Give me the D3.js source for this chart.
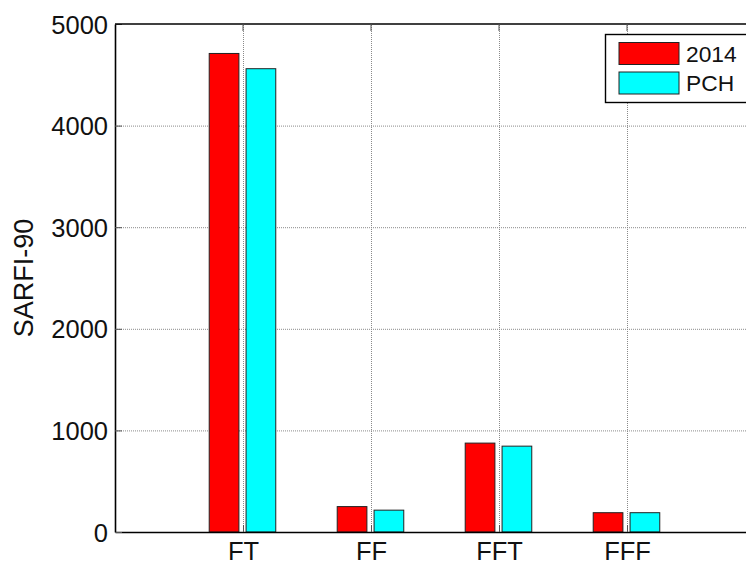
<!DOCTYPE html>
<html>
<head>
<meta charset="utf-8">
<script src="https://cdn.jsdelivr.net/npm/d3@7"></script>
<style>
    body { margin: 0; background: #fff; }
    svg { display: block; font-family: "Liberation Sans", Arial, sans-serif; }
</style>
</head>
<body>
<div id="svganchor"></div>
<script>
// Chart data
let categories = ["FT", "FF", "FFT", "FFF"];
let seriesNames = ["2014", "PCH"];
let values2014 = [4710, 250, 875, 190];
let valuesPCH = [4560, 215, 845, 190];
let yTicks = [0, 1000, 2000, 3000, 4000, 5000];

let width = 746;
let height = 563;
let margin = ({top: 24, right: -9, bottom: 31, left: 115});

let colors = d3.scaleOrdinal()
    .domain(seriesNames)
    .range(["#ff0000", "#00ffff"]);

let svg = d3.select("#svganchor")
    .append("svg")
    .attr("width", width)
    .attr("height", height);

// MATLAB style axes: categories sit on 1..n, limits 0..n+1
let xScale = d3.scaleLinear()
    .domain([0, categories.length + 1])
    .range([margin.left, width - margin.right]);

let yScale = d3.scaleLinear()
    .domain([0, 5000])
    .range([height - margin.bottom, margin.top]);

// offsets of each series inside a group, in x units
let offsets = [-0.148, 0.14];
let barWidth = 0.232;

let x0 = xScale.range()[0], x1 = xScale.range()[1];
let y0 = yScale.range()[0], y1 = yScale.range()[1];

// Dotted grid
let grid = svg.append("g")
    .attr("stroke", "#8a8a8a")
    .attr("stroke-width", 1)
    .attr("stroke-dasharray", "1,1");

grid.selectAll(".hgrid")
    .data(yTicks.slice(1, -1))
    .enter().append("line")
    .attr("x1", x0).attr("x2", x1)
    .attr("y1", d => yScale(d) + 0.5).attr("y2", d => yScale(d) + 0.5);

grid.selectAll(".vgrid")
    .data(categories)
    .enter().append("line")
    .attr("x1", (d, i) => xScale(i + 1) + 0.5).attr("x2", (d, i) => xScale(i + 1) + 0.5)
    .attr("y1", y0).attr("y2", y1);

// Bars
let series = [values2014, valuesPCH];

series.forEach(function(vals, s) {
    svg.append("g")
        .selectAll("rect")
        .data(vals)
        .enter().append("rect")
        .attr("x", (d, i) => xScale(i + 1 + offsets[s] - barWidth / 2))
        .attr("y", d => yScale(d))
        .attr("width", xScale(barWidth) - xScale(0))
        .attr("height", d => yScale(0) - yScale(d))
        .attr("fill", colors(seriesNames[s]))
        .attr("stroke", "#222")
        .attr("stroke-width", 1);
});

// Axes
let xAxis = d3.axisBottom(xScale)
    .tickValues(d3.range(1, categories.length + 1))
    .tickFormat(d => categories[d - 1])
    .tickSizeInner(-7)
    .tickSizeOuter(0)
    .tickPadding(10);

let yAxis = d3.axisLeft(yScale)
    .tickValues(yTicks)
    .tickFormat(d3.format("d"))
    .tickSizeInner(-7)
    .tickSizeOuter(0)
    .tickPadding(7);

let gx = svg.append("g")
    .attr("transform", "translate(0," + y0 + ")")
    .call(xAxis);

let gy = svg.append("g")
    .attr("transform", "translate(" + x0 + ",0)")
    .call(yAxis);

[gx, gy].forEach(function(g) {
    g.select(".domain").attr("stroke", "#000").attr("stroke-width", 1.6);
    g.selectAll(".tick line").attr("stroke", "#555").attr("stroke-width", 1);
    g.selectAll(".tick text")
        .attr("fill", "#111")
        .style("font-size", "25.5px")
        .style("font-family", "'Liberation Sans', Arial, sans-serif");
});
gx.selectAll(".tick text").attr("dy", "0.71em");
gy.selectAll(".tick text").attr("dy", "0.36em");

// Top frame with inside ticks
svg.append("line")
    .attr("x1", x0).attr("x2", x1)
    .attr("y1", y1).attr("y2", y1)
    .attr("stroke", "#000").attr("stroke-width", 1.6);

svg.append("g")
    .selectAll("line")
    .data(categories)
    .enter().append("line")
    .attr("x1", (d, i) => xScale(i + 1)).attr("x2", (d, i) => xScale(i + 1))
    .attr("y1", y1).attr("y2", y1 + 7)
    .attr("stroke", "#555");

// Y label
svg.append("text")
    .attr("transform", "translate(33," + ((y0 + y1) / 2) + ") rotate(-90)")
    .attr("text-anchor", "middle")
    .style("font-size", "27px")
    .attr("fill", "#111")
    .text("SARFI-90");

// Legend
let legend = svg.append("g");

legend.append("rect")
    .attr("x", 605.5).attr("y", 34.5)
    .attr("width", 160).attr("height", 68)
    .attr("fill", "#fff")
    .attr("stroke", "#000")
    .attr("stroke-width", 1.4);

seriesNames.forEach(function(name, s) {
    legend.append("rect")
        .attr("x", 619).attr("y", 42.5 + s * 29.5)
        .attr("width", 60).attr("height", 22)
        .attr("fill", colors(name))
        .attr("stroke", "#222");
    legend.append("text")
        .attr("x", 686).attr("y", 53.5 + s * 29.5)
        .attr("dy", "0.36em")
        .style("font-size", "22.8px")
        .attr("fill", "#111")
        .text(name);
});
</script>
</body>
</html>
